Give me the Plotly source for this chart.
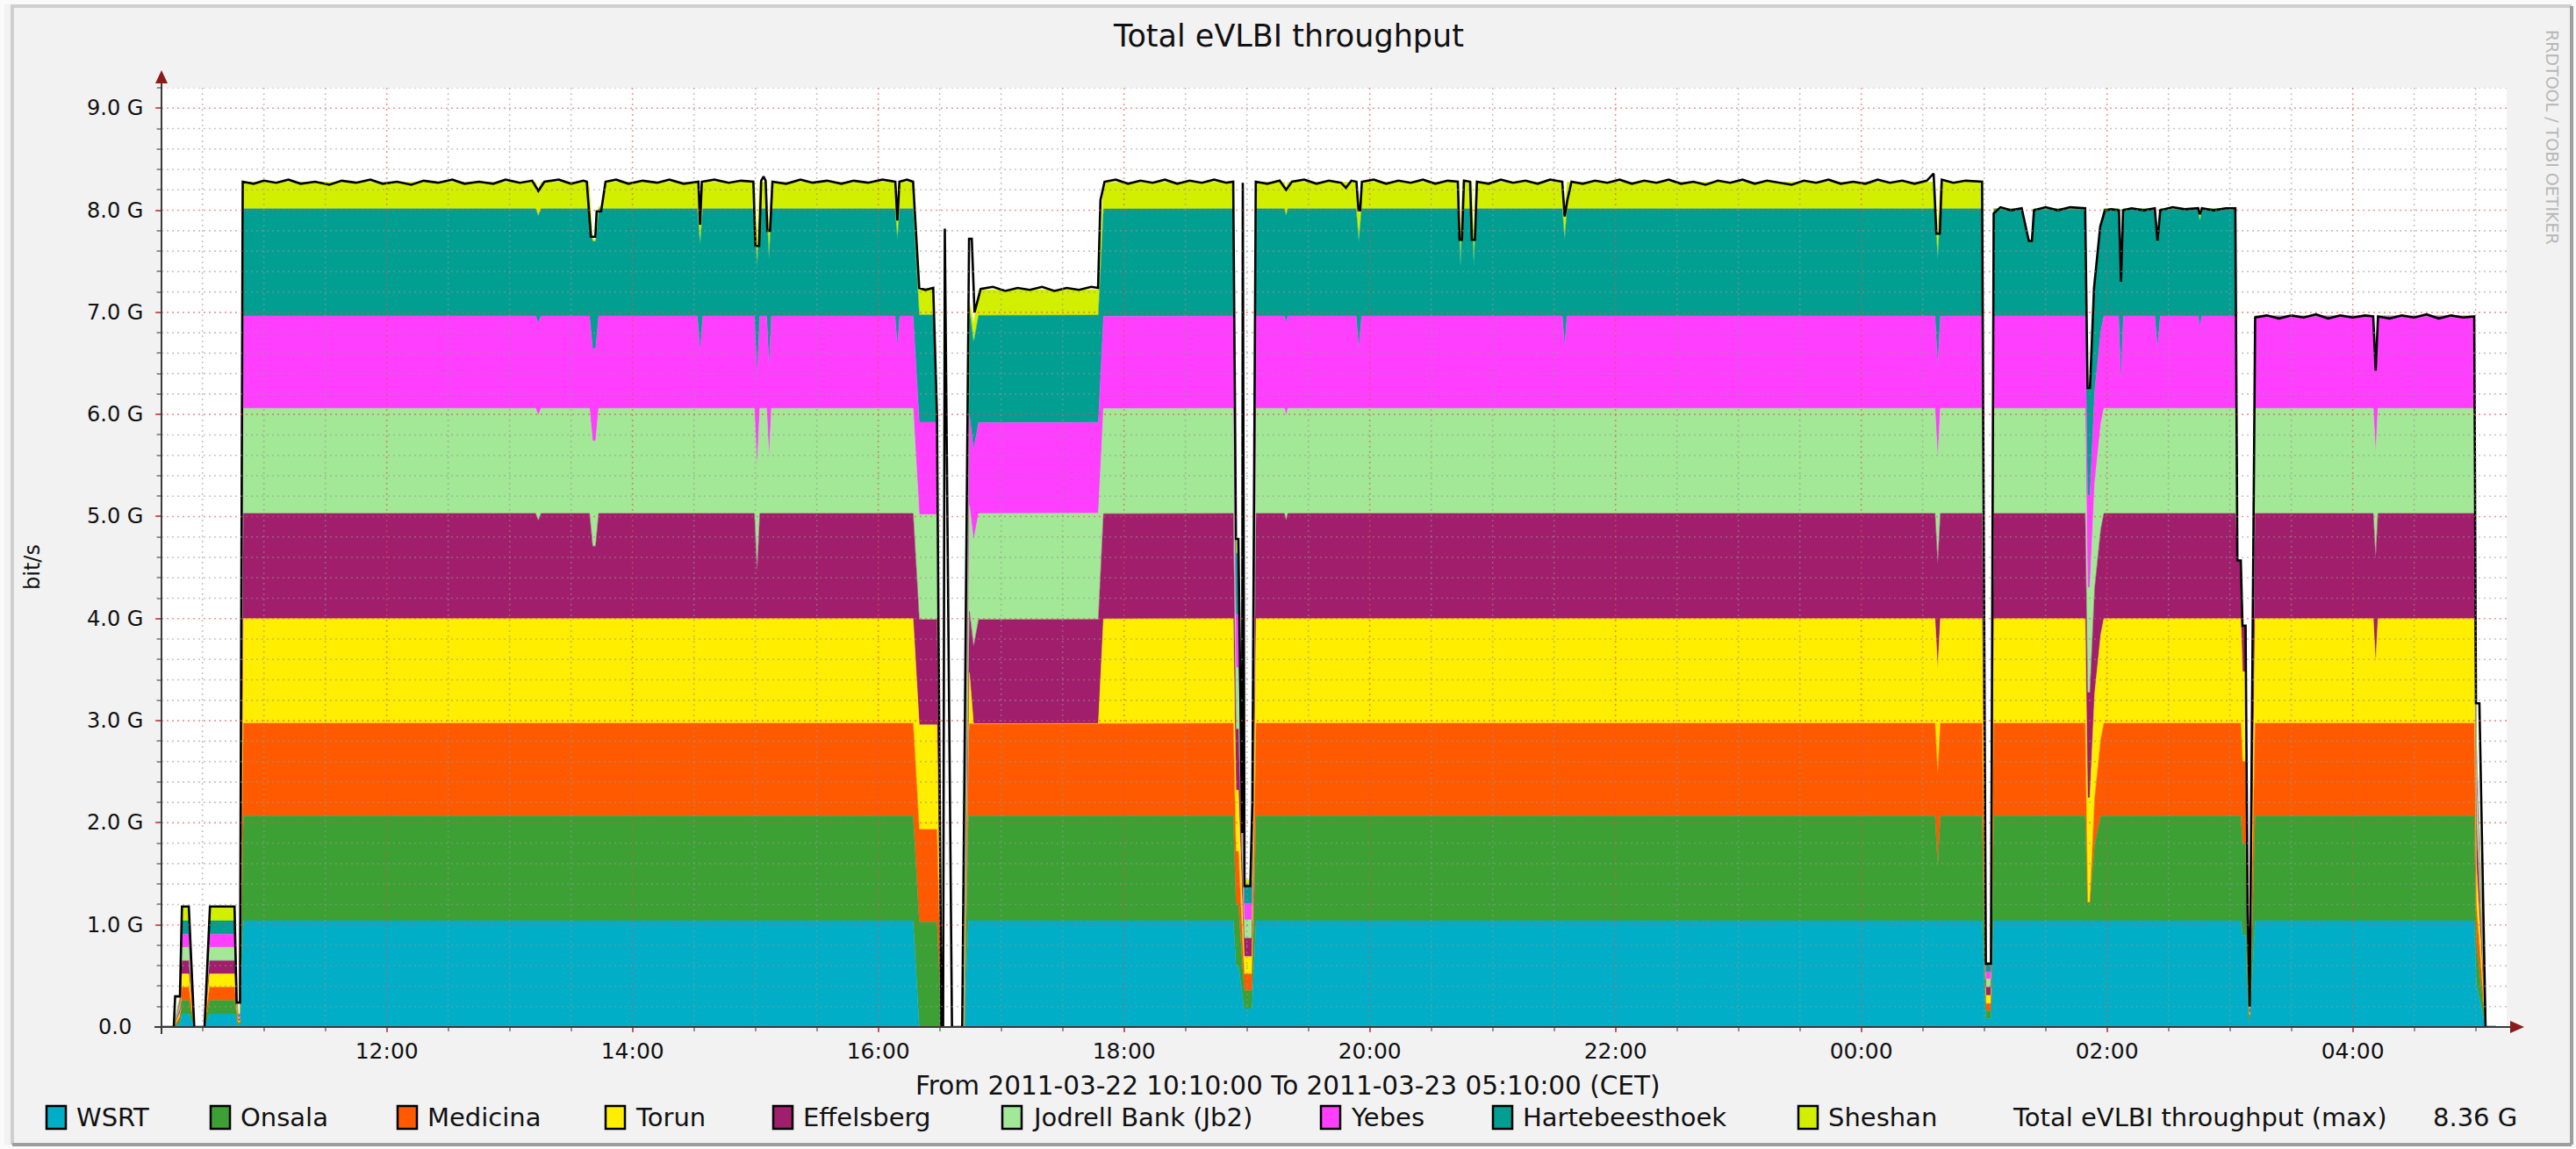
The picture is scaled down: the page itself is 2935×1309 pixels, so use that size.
from datetime import datetime
import plotly.graph_objects as go

# ---------------------------------------------------------------------------
# Data: per-station throughput in Gbit/s as (clock time, value) vertices.
# Clock times from 10:00 onwards belong to 2011-03-22, earlier ones to 03-23.
# ---------------------------------------------------------------------------

# short warm-up bursts at the start of the session (same share per station)
startup_clock = ["10:10", "10:16", "10:19", "10:20", "10:23:20", "10:26", "10:31",
                 "10:33:30", "10:45:40", "10:47:20", "10:48:20"]
startup_level = [0, 0, 0.035, 0.13, 0.13, 0, 0, 0.13, 0.13, 0.015, 0.015]
sheshan_startup_level = [0, 0, 0.035, 0.14, 0.14, 0, 0, 0.14, 0.14, 0.015, 0.015]

wsrt = [("10:50", 1.04),
        ("16:17", 1.04), ("16:20", 0), ("16:42", 0), ("16:44", 1.04),
        ("18:53:20", 1.04), ("18:54:40", 0.6), ("18:55:50", 0.6), ("18:58:40", 0.18), ("19:02:30", 0.18), ("19:04:30", 1.04),
        ("00:59", 1.04), ("01:00:50", 0.08), ("01:03:20", 0.08), ("01:04:40", 1.04),
        ("03:05:20", 1.04), ("03:06:10", 0.9), ("03:07:40", 0.9), ("03:08:40", 0.22), ("03:09:40", 0.03), ("03:12:20", 1.04),
        ("04:59:20", 1.04), ("05:00:20", 0.42), ("05:02", 0.26), ("05:04:50", 0), ("05:10", 0)]

onsala = [("10:50", 1.03),
          ("16:28:40", 1.03), ("16:31", 0), ("16:42", 0), ("16:44", 1.03),
          ("18:53:20", 1.03), ("18:54:40", 0.6), ("18:55:50", 0.6), ("18:58:40", 0.18), ("19:02:30", 0.18), ("19:04:30", 1.03),
          ("00:36", 1.03), ("00:37:20", 0.53), ("00:38:40", 1.03),
          ("00:59", 1.03), ("01:00:50", 0.08), ("01:03:20", 0.08), ("01:04:40", 1.03),
          ("01:49:20", 1.03), ("01:50:30", 0.18), ("01:51:40", 0.18), ("01:54", 0.75), ("01:57", 1.03),
          ("03:05:20", 1.03), ("03:06:10", 0.9), ("03:07:40", 0.9), ("03:08:40", 0.22), ("03:09:40", 0.03), ("03:12:20", 1.03),
          ("04:59:20", 1.03), ("05:00:20", 0.41), ("05:02", 0.26), ("05:04:50", 0), ("05:10", 0)]

medicina = [("10:50", 0.905),
            ("16:28:40", 0.905), ("16:31", 0), ("16:42", 0), ("16:44:30", 0.9),
            ("18:53:20", 0.905), ("18:54:40", 0.52), ("18:55:50", 0.52), ("18:58:40", 0.16), ("19:02:30", 0.16), ("19:04:30", 0.905),
            ("00:59", 0.905), ("01:00:50", 0.07), ("01:03:20", 0.07), ("01:04:40", 0.905),
            ("01:49:20", 0.905), ("01:50:30", 0.0), ("01:51:40", 0.0), ("01:54", 0.45), ("01:58:30", 0.905),
            ("03:05:20", 0.905), ("03:06:10", 0.8), ("03:07:40", 0.8), ("03:08:40", 0.2), ("03:09:40", 0.03), ("03:12:20", 0.905),
            ("04:59:20", 0.905), ("05:00:20", 0.36), ("05:02", 0.23), ("05:04:50", 0), ("05:10", 0)]

torun = [("10:50", 1.025),
         ("16:28:40", 1.025), ("16:31", 0), ("16:43", 0), ("16:44:30", 0.5), ("16:46:30", 0), ("17:47:30", 0), ("17:50", 1.025),
         ("18:53:20", 1.025), ("18:54:40", 0.6), ("18:55:50", 0.6), ("18:58:40", 0.17), ("19:02:30", 0.17), ("19:04:30", 1.025),
         ("00:59", 1.025), ("01:00:50", 0.08), ("01:03:20", 0.08), ("01:04:40", 1.025),
         ("03:05:20", 1.025), ("03:06:10", 0.88), ("03:07:40", 0.88), ("03:08:40", 0.2), ("03:09:40", 0.03), ("03:12:20", 1.025),
         ("04:10", 1.025), ("04:11:10", 0.58), ("04:12:20", 1.025),
         ("04:59:20", 1.025), ("05:00:20", 0.41), ("05:02", 0.26), ("05:04:50", 0), ("05:10", 0)]

effelsberg = [("10:50", 1.03),
              ("13:12:40", 1.03), ("13:14", 0.96), ("13:15:20", 1.03),
              ("13:39", 1.03), ("13:40:30", 0.71), ("13:42", 0.71), ("13:43:30", 1.03),
              ("14:59:30", 1.03), ("15:00:50", 0.45), ("15:02:10", 1.03),
              ("16:28:40", 1.03), ("16:31", 0), ("16:42", 0), ("16:44:30", 0.6), ("16:47", 0.8), ("16:49", 1.02),
              ("17:47:30", 1.02), ("17:50", 1.03),
              ("18:53:20", 1.03), ("18:54:40", 0.6), ("18:55:50", 0.6), ("18:58:40", 0.18), ("19:02:30", 0.18), ("19:04:30", 1.03),
              ("19:18:20", 1.03), ("19:19:10", 0.96), ("19:20", 1.03),
              ("00:59", 1.03), ("01:00:50", 0.08), ("01:03:20", 0.08), ("01:04:40", 1.03),
              ("03:02:40", 1.03), ("03:03:40", 0.57), ("03:05:20", 0.57), ("03:06:10", 0.45), ("03:07:40", 0.45),
              ("03:08:40", 0.2), ("03:09:40", 0.03), ("03:12:20", 1.03),
              ("04:59:20", 1.03), ("05:00:20", 0.41), ("05:02", 0.26), ("05:04:50", 0), ("05:10", 0)]

jodrell = [("10:50", 1.03),
           ("15:05:30", 1.03), ("15:06:40", 0.53), ("15:07:50", 1.03),
           ("16:28:40", 1.03), ("16:31", 0), ("16:42", 0), ("16:44:30", 1.04), ("17:47:30", 1.04), ("17:50", 1.03),
           ("18:53:20", 1.03), ("18:54:40", 0.6), ("18:55:50", 0.6), ("18:58:40", 0.18), ("19:02:30", 0.18), ("19:04:30", 1.03),
           ("00:59", 1.03), ("01:00:50", 0.08), ("01:03:20", 0.08), ("01:04:40", 1.03),
           ("03:02:40", 1.03), ("03:03:40", 0), ("03:08:40", 0), ("03:09:40", 0.03), ("03:12:20", 1.03),
           ("04:59:20", 1.03), ("05:00:20", 0.41), ("05:02", 0.26), ("05:04:50", 0), ("05:10", 0)]

yebes = [("10:50", 0.905),
         ("14:31:40", 0.905), ("14:33", 0.55), ("14:34:20", 0.905),
         ("16:08:10", 0.905), ("16:09:20", 0.6), ("16:10:30", 0.905),
         ("16:28:40", 0.905), ("16:31", 0), ("16:42", 0), ("16:44:30", 0.89), ("17:47:30", 0.89), ("17:50", 0.905),
         ("18:53:20", 0.905), ("18:54:40", 0.52), ("18:55:50", 0.52), ("18:58:40", 0.16), ("19:02:30", 0.16), ("19:04:30", 0.905),
         ("19:53:20", 0.905), ("19:54:40", 0.58), ("19:56", 0.905),
         ("21:34", 0.905), ("21:35:10", 0.6), ("21:36:20", 0.905),
         ("00:59", 0.905), ("01:00:50", 0.07), ("01:03:20", 0.07), ("01:04:40", 0.905),
         ("02:05:40", 0.905), ("02:06:50", 0.25), ("02:08", 0.905),
         ("02:23:20", 0.905), ("02:24:40", 0.58), ("02:26", 0.905),
         ("02:44:30", 0.905), ("02:45:20", 0.8), ("02:46:20", 0.905),
         ("03:02:40", 0.905), ("03:03:40", 0), ("03:08:40", 0), ("03:09:40", 0.03), ("03:12:20", 0.905),
         ("04:59:20", 0.905), ("05:00:20", 0.36), ("05:02", 0.23), ("05:04:50", 0), ("05:10", 0)]

hartebeesthoek = [("10:50", 1.05),
                  ("16:27", 1.05), ("16:28:40", 0), ("16:42", 0), ("16:44:30", 1.05),
                  ("18:53:20", 1.05), ("18:54:40", 0.6), ("18:55:50", 0.6), ("18:58:40", 0.18), ("19:02:30", 0.18), ("19:04:30", 1.05),
                  ("20:43:20", 1.05), ("20:44:20", 0.48), ("20:45:20", 1.05),
                  ("20:49:50", 1.05), ("20:50:50", 0.48), ("20:51:50", 1.05),
                  ("00:59", 1.05), ("01:00:50", 0.08), ("01:03:20", 0.08), ("01:04:40", 1.05),
                  ("01:18:20", 1.05), ("01:21:50", 0.73), ("01:23:20", 0.73), ("01:24:20", 1.05),
                  ("03:02:40", 1.05), ("03:03:30", 0), ("05:10", 0)]

sheshan = [("10:50", 0.26),
           ("13:38:30", 0.26), ("13:40", 0.02), ("13:45", 0.02), ("13:47", 0.26),
           ("16:27", 0.26), ("16:28:40", 0), ("16:44", 0), ("16:45", 0.1), ("16:47", 0.2), ("16:49", 0.25),
           ("17:47:30", 0.25), ("17:50", 0.26),
           ("18:53:20", 0.26), ("18:54:40", 0.15), ("18:55:50", 0.15), ("18:58:40", 0.05), ("19:02:30", 0.05), ("19:04:30", 0.26),
           ("00:59", 0.26), ("01:00:50", 0), ("05:10", 0)]

# maximum of the summed throughput (drawn as a line on top of the stack)
total_max = [("10:10", 0), ("10:16", 0), ("10:16:40", 0.3), ("10:19", 0.3), ("10:20", 1.18), ("10:23:20", 1.18),
             ("10:26", 0), ("10:31", 0), ("10:33:40", 1.18), ("10:45:40", 1.18), ("10:46:40", 0.24), ("10:48:20", 0.24),
             ("10:49:40", 8.28), ("10:55", 8.26), ("11:00", 8.29), ("11:06", 8.27), ("11:12", 8.30), ("11:18", 8.26),
             ("11:25", 8.28), ("11:32", 8.25), ("11:38", 8.29), ("11:45", 8.27), ("11:52", 8.30), ("11:58", 8.26),
             ("12:05", 8.28), ("12:12", 8.25), ("12:18", 8.29), ("12:25", 8.27), ("12:32", 8.30), ("12:38", 8.26),
             ("12:45", 8.28), ("12:52", 8.26), ("12:58", 8.30), ("13:05", 8.27), ("13:11", 8.29), ("13:14", 8.19),
             ("13:17", 8.28), ("13:24", 8.30), ("13:30", 8.26), ("13:36", 8.29), ("13:37:40", 8.28),
             ("13:39:40", 7.74), ("13:41:50", 7.74), ("13:42:30", 7.99), ("13:44:40", 7.99), ("13:46:50", 8.28),
             ("13:52", 8.30), ("13:58", 8.26), ("14:05", 8.29), ("14:12", 8.27), ("14:18", 8.30), ("14:25", 8.26),
             ("14:32:10", 8.28), ("14:33", 7.86), ("14:33:50", 8.28), ("14:40", 8.30), ("14:47", 8.27), ("14:53", 8.29),
             ("14:59", 8.28), ("15:00", 7.65), ("15:01:50", 7.65), ("15:02:50", 8.29), ("15:04", 8.33), ("15:05", 8.29),
             ("15:05:50", 7.80), ("15:07:10", 7.80), ("15:08:20", 8.28), ("15:15", 8.26), ("15:22", 8.30),
             ("15:28", 8.27), ("15:35", 8.29), ("15:42", 8.26), ("15:48", 8.29), ("15:55", 8.27), ("16:02", 8.30),
             ("16:08:20", 8.28), ("16:09:20", 7.90), ("16:10:20", 8.28), ("16:14", 8.30), ("16:17", 8.28),
             ("16:20", 7.24), ("16:23", 7.22), ("16:26:50", 7.24), ("16:28:40", 6.0), ("16:30:50", 0), ("16:31:40", 0),
             ("16:32:30", 7.82), ("16:34", 4.4), ("16:36", 0), ("16:41", 0), ("16:42:10", 2.7), ("16:44:20", 7.72),
             ("16:45:40", 7.72), ("16:47", 7.0), ("16:50", 7.23), ("16:56", 7.25), ("17:02", 7.21), ("17:08", 7.24),
             ("17:14", 7.22), ("17:20", 7.25), ("17:26", 7.21), ("17:32", 7.24), ("17:38", 7.22), ("17:44", 7.25),
             ("17:47:20", 7.24), ("17:48:30", 8.10), ("17:50:30", 8.28), ("17:56", 8.30), ("18:02", 8.26),
             ("18:08", 8.29), ("18:14", 8.27), ("18:20", 8.30), ("18:26", 8.26), ("18:32", 8.29), ("18:38", 8.27),
             ("18:44", 8.30), ("18:50", 8.27), ("18:53:20", 8.28), ("18:54:40", 4.78), ("18:55:50", 4.78),
             ("18:57:40", 1.9), ("18:58", 8.27), ("18:58:50", 1.38), ("19:01:40", 1.38), ("19:02:40", 2.2),
             ("19:04:20", 8.28), ("19:10", 8.26), ("19:16", 8.29), ("19:19:10", 8.20), ("19:22", 8.28), ("19:28", 8.30),
             ("19:34", 8.26), ("19:40", 8.29), ("19:46", 8.27), ("19:48:20", 8.22), ("19:51", 8.29),
             ("19:53:30", 8.28), ("19:54:30", 8.00), ("19:55:20", 8.00), ("19:56:10", 8.28), ("20:02", 8.30),
             ("20:08", 8.26), ("20:14", 8.29), ("20:20", 8.27), ("20:26", 8.30), ("20:32", 8.26), ("20:38", 8.29),
             ("20:43", 8.28), ("20:43:50", 7.71), ("20:45", 7.71), ("20:46", 8.29), ("20:49", 8.28),
             ("20:49:50", 7.71), ("20:51:20", 7.71), ("20:52:20", 8.28), ("20:58", 8.26), ("21:04", 8.30),
             ("21:10", 8.27), ("21:16", 8.29), ("21:22", 8.26), ("21:28", 8.30), ("21:34", 8.28), ("21:35:10", 7.94),
             ("21:36:30", 8.10), ("21:38:30", 8.28), ("21:44", 8.26), ("21:50", 8.29), ("21:56", 8.27),
             ("22:02", 8.30), ("22:08", 8.26), ("22:14", 8.29), ("22:20", 8.27), ("22:26", 8.30), ("22:32", 8.26),
             ("22:38", 8.28), ("22:44", 8.25), ("22:50", 8.29), ("22:56", 8.27), ("23:02", 8.30), ("23:08", 8.26),
             ("23:14", 8.29), ("23:20", 8.27), ("23:26", 8.25), ("23:32", 8.29), ("23:38", 8.27), ("23:44", 8.30),
             ("23:50", 8.26), ("23:56", 8.28), ("00:02", 8.26), ("00:08", 8.30), ("00:14", 8.27), ("00:20", 8.29),
             ("00:26", 8.26), ("00:32", 8.29), ("00:35:20", 8.36), ("00:36:40", 7.77), ("00:38:20", 7.77),
             ("00:39:20", 8.30), ("00:45", 8.27), ("00:51", 8.29), ("00:57", 8.28), ("00:59", 8.28),
             ("01:00:50", 0.62), ("01:03:20", 0.62), ("01:04:40", 7.97), ("01:08", 8.03), ("01:13", 8.00),
             ("01:18:20", 8.02), ("01:21:50", 7.70), ("01:23:20", 7.70), ("01:24:20", 8.00), ("01:30", 8.03),
             ("01:36", 8.00), ("01:42", 8.03), ("01:49:20", 8.02), ("01:50:30", 6.26), ("01:51:40", 6.26),
             ("01:53:40", 7.24), ("01:56:40", 7.84), ("01:59", 8.00), ("02:02", 8.01), ("02:05:50", 8.00),
             ("02:06:50", 7.30), ("02:07:50", 8.00), ("02:12", 8.02), ("02:18", 8.00), ("02:23:20", 8.02),
             ("02:24:40", 7.70), ("02:26", 8.00), ("02:32", 8.03), ("02:38", 8.01), ("02:44:30", 8.02),
             ("02:45:20", 7.96), ("02:46:20", 8.02), ("02:52", 8.00), ("02:58", 8.02), ("03:02:40", 8.02),
             ("03:03:40", 4.57), ("03:05:20", 4.57), ("03:06:10", 3.93), ("03:07:40", 3.93), ("03:08:40", 1.1),
             ("03:09:40", 0.2), ("03:12:20", 6.95), ("03:18", 6.97), ("03:24", 6.94), ("03:30", 6.97), ("03:36", 6.95),
             ("03:42", 6.98), ("03:48", 6.94), ("03:54", 6.97), ("04:00", 6.95), ("04:06", 6.97), ("04:10", 6.96),
             ("04:11:10", 6.43), ("04:12:20", 6.96), ("04:18", 6.94), ("04:24", 6.97), ("04:30", 6.95),
             ("04:36", 6.98), ("04:42", 6.94), ("04:48", 6.97), ("04:54", 6.95), ("04:59:20", 6.96),
             ("05:00:10", 3.17), ("05:01:50", 3.17), ("05:04:50", 0), ("05:10", 0)]

station_names = ["WSRT", "Onsala", "Medicina", "Torun", "Effelsberg", "Jodrell Bank (Jb2)",
                 "Yebes", "Hartebeesthoek", "Sheshan"]
station_colors = ["#00AEC8", "#3DA035", "#FF5A00", "#FFEE00", "#A01E6B", "#A2E896",
                  "#FF3EFF", "#009F92", "#D3EF00"]

x_tick_labels = ["12:00", "14:00", "16:00", "18:00", "20:00", "22:00", "00:00", "02:00", "04:00"]
y_tick_values = [0, 1, 2, 3, 4, 5, 6, 7, 8, 9]
y_tick_labels = ["0.0", "1.0 G", "2.0 G", "3.0 G", "4.0 G", "5.0 G", "6.0 G", "7.0 G", "8.0 G", "9.0 G"]

title_text = "Total eVLBI throughput"
period_text = "From 2011-03-22 10:10:00 To 2011-03-23 05:10:00 (CET)"
total_label = "Total eVLBI throughput (max)"
watermark = "RRDTOOL / TOBI OETIKER"


def at(clock):
    """Clock string -> datetime on the session's two days."""
    parts = [int(p) for p in clock.split(":")]
    parts += [0] * (3 - len(parts))
    h, m, s = parts
    return datetime(2011, 3, 22 if h >= 10 else 23, h, m, s)


# ---------------------------------------------------------------------------
# Geometry (pixels of the 2935 x 1309 canvas)
# ---------------------------------------------------------------------------
W, H = 2935, 1309
PL, PR, PT, PB = 184, 2856, 100, 1170
FONT = "DejaVu Sans"


def fx(x):
    return (x - PL) / (PR - PL)


def fy(y):
    return (PB - y) / (PB - PT)


fig = go.Figure()

series = [wsrt, onsala, medicina, torun, effelsberg, jodrell, yebes, hartebeesthoek, sheshan]
for name, color, pts in zip(station_names, station_colors, series):
    start = sheshan_startup_level if name == "Sheshan" else startup_level
    pts = list(zip(startup_clock, start)) + pts
    fig.add_trace(go.Scatter(
        x=[at(c) for c, _ in pts], y=[v for _, v in pts],
        name=name, mode="lines", stackgroup="eVLBI", stackgaps="interpolate",
        line=dict(width=0.6, color=color), fillcolor=color,
        hoverinfo="skip", showlegend=False))

fig.add_trace(go.Scatter(
    x=[at(c) for c, _ in total_max], y=[v for _, v in total_max],
    name=total_label, mode="lines", line=dict(color="#000000", width=2.6),
    hoverinfo="skip", showlegend=False))

x_start = at("10:10")
x_end = datetime(2011, 3, 23, 5, 15, 9)

shapes = []
# grid drawn on top of the areas, rrdtool style
minor_grey = "rgba(150,150,150,0.55)"
major_red = "rgba(225,80,80,0.6)"
half_hours = []
t = datetime(2011, 3, 22, 10, 30)
while t < x_end:
    half_hours.append(t)
    t = datetime.fromtimestamp(t.timestamp() + 1800)
for t in half_hours:
    major = t.minute == 0 and t.hour % 2 == 0
    shapes.append(dict(type="line", xref="x", yref="paper", x0=t, x1=t, y0=0, y1=1,
                       line=dict(color=major_red if major else minor_grey, width=1.6, dash="2px,4px"),
                       layer="above"))
for k in range(1, 47):
    v = k * 0.2
    major = k % 5 == 0
    shapes.append(dict(type="line", xref="paper", yref="y", x0=fx(178), x1=1, y0=v, y1=v,
                       line=dict(color=major_red if major else minor_grey, width=1.6, dash="2px,4px"),
                       layer="above"))

# axes with arrow heads
axis_col = "#3a3a3a"
arrow_col = "#8B1A1A"
shapes.append(dict(type="line", xref="paper", yref="paper", x0=fx(176), x1=fx(2862), y0=0, y1=0,
                   line=dict(color=axis_col, width=2), layer="above"))
shapes.append(dict(type="line", xref="paper", yref="paper", x0=0, x1=0, y0=fy(1178), y1=fy(92),
                   line=dict(color=axis_col, width=2), layer="above"))
shapes.append(dict(type="path", xref="paper", yref="paper", layer="above",
                   path=f"M {fx(2860)},{fy(1163)} L {fx(2876)},{fy(1170)} L {fx(2860)},{fy(1177)} Z",
                   fillcolor=arrow_col, line=dict(width=0)))
shapes.append(dict(type="path", xref="paper", yref="paper", layer="above",
                   path=f"M {fx(177)},{fy(95)} L {fx(184)},{fy(80)} L {fx(191)},{fy(95)} Z",
                   fillcolor=arrow_col, line=dict(width=0)))

# image frame
shapes.append(dict(type="rect", xref="paper", yref="paper", x0=fx(0), x1=fx(W), y0=fy(H), y1=fy(0),
                   fillcolor="rgba(0,0,0,0)", line=dict(color="#fafafa", width=10), layer="below"))
shapes.append(dict(type="line", xref="paper", yref="paper", x0=fx(12), x1=fx(2930), y0=fy(7), y1=fy(7),
                   line=dict(color="#cfcfcf", width=4)))
shapes.append(dict(type="line", xref="paper", yref="paper", x0=fx(14), x1=fx(14), y0=fy(7), y1=fy(1304),
                   line=dict(color="#cfcfcf", width=4)))
shapes.append(dict(type="line", xref="paper", yref="paper", x0=fx(2930), x1=fx(2930), y0=fy(7), y1=fy(1304),
                   line=dict(color="#9e9e9e", width=4)))
shapes.append(dict(type="line", xref="paper", yref="paper", x0=fx(14), x1=fx(2930), y0=fy(1304), y1=fy(1304),
                   line=dict(color="#9e9e9e", width=4)))

annotations = []
# y tick labels, centred in the left margin
for v, lab in zip(y_tick_values, y_tick_labels):
    annotations.append(dict(text=lab, xref="paper", yref="y", x=fx(131), y=v, xanchor="center",
                            yanchor="middle", showarrow=False, font=dict(family=FONT, size=24, color="#111")))
annotations.append(dict(text=title_text, xref="paper", yref="paper", x=fx(W / 2), y=fy(41),
                        xanchor="center", yanchor="middle", showarrow=False,
                        font=dict(family=FONT, size=35, color="#111")))
annotations.append(dict(text="bit/s", xref="paper", yref="paper", x=fx(37), y=fy(646), textangle=-90,
                        xanchor="center", yanchor="middle", showarrow=False,
                        font=dict(family=FONT, size=24, color="#111")))
annotations.append(dict(text=watermark, xref="paper", yref="paper", x=fx(2908), y=fy(156), textangle=90,
                        xanchor="center", yanchor="middle", showarrow=False,
                        font=dict(family=FONT, size=19, color="#b8b8b8")))
annotations.append(dict(text=period_text, xref="paper", yref="paper", x=fx(W / 2), y=fy(1237),
                        xanchor="center", yanchor="middle", showarrow=False,
                        font=dict(family=FONT, size=29.5, color="#111")))

# legend row: swatch + label
legend_box_left = [53, 240, 453, 690, 881, 1142, 1505, 1701, 2049]
ly = 1273
for name, color, bx in zip(station_names, station_colors, legend_box_left):
    shapes.append(dict(type="rect", xref="paper", yref="paper", x0=fx(bx), x1=fx(bx + 22),
                       y0=fy(ly + 13), y1=fy(ly - 13), fillcolor=color,
                       line=dict(color="#000", width=2.5)))
    annotations.append(dict(text=name, xref="paper", yref="paper", x=fx(bx + 32), y=fy(ly),
                            xanchor="left", yanchor="middle", showarrow=False,
                            font=dict(family=FONT, size=29, color="#111")))
peak = max(v for _, v in total_max)
annotations.append(dict(text=total_label, xref="paper", yref="paper", x=fx(2291), y=fy(ly),
                        xanchor="left", yanchor="middle", showarrow=False,
                        font=dict(family=FONT, size=29, color="#111")))
annotations.append(dict(text=f"{peak:.2f} G", xref="paper", yref="paper", x=fx(2870), y=fy(ly),
                        xanchor="right", yanchor="middle", showarrow=False,
                        font=dict(family=FONT, size=29, color="#111")))

fig.update_layout(
    width=W, height=H,
    margin=dict(l=PL, r=W - PR, t=PT, b=H - PB, pad=0),
    paper_bgcolor="#f2f2f2", plot_bgcolor="#ffffff",
    shapes=shapes, annotations=annotations, showlegend=False,
    font=dict(family=FONT, color="#111"),
    xaxis=dict(type="date", range=[x_start, x_end], showgrid=False, zeroline=False, showline=False,
               tickmode="array", tickvals=[at(s) for s in x_tick_labels], ticktext=x_tick_labels,
               ticks="outside", ticklen=5, tickwidth=2, tickcolor="rgba(210,70,70,0.8)",
               tickfont=dict(family=FONT, size=25, color="#111"),
               minor=dict(dtick=30 * 60 * 1000, ticks="outside", ticklen=4, tickwidth=1.5,
                          tickcolor="rgba(120,120,120,0.8)", showgrid=False)),
    yaxis=dict(range=[0, 9.2], showgrid=False, zeroline=False, showline=False,
               tickmode="array", tickvals=y_tick_values, showticklabels=False,
               ticks="outside", ticklen=6, tickwidth=2, tickcolor="rgba(210,70,70,0.8)",
               minor=dict(dtick=0.2, ticks="outside", ticklen=4, tickwidth=1.5,
                          tickcolor="rgba(120,120,120,0.8)", showgrid=False)),
)

fig.write_html("out.html")
